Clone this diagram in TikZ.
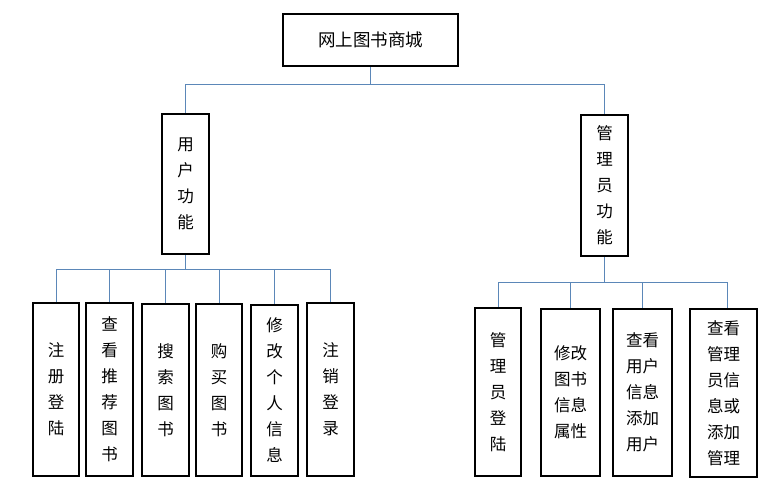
\documentclass[tikz,border=0pt]{standalone}
\usepackage{fontspec}
\newfontfamily\cjk{Noto Sans CJK SC}
\definecolor{linkblue}{HTML}{5B87B8}
\begin{document}
\begin{tikzpicture}[x=1pt,y=-1pt,
  box/.style={draw=black, line width=2.2pt, inner sep=0pt, align=center,
    font=\cjk\fontsize{16.5}{26}\selectfont},
  link/.style={draw=linkblue, line width=0.9pt}]
\useasboundingbox[fill=white] (0,0) rectangle (783,493);
% root
\node[box, minimum width=175pt, minimum height=52pt, font=\cjk\fontsize{17.5}{26}\selectfont] (root) at (370.5,40) {网上图书商城};
% level 1
\node[box, minimum width=47pt, minimum height=140pt] (user) at (185.5,184) {用\\户\\功\\能};
\node[box, minimum width=47pt, minimum height=141pt] (admin) at (604.5,185.5) {管\\理\\员\\功\\能};
% user children
\node[box, minimum width=46pt, minimum height=173pt] (u1) at (56,389.5) {注\\册\\登\\陆};
\node[box, minimum width=47pt, minimum height=173pt] (u2) at (109.5,389.5) {查\\看\\推\\荐\\图\\书};
\node[box, minimum width=47pt, minimum height=172pt] (u3) at (165.5,390) {搜\\索\\图\\书};
\node[box, minimum width=46pt, minimum height=172pt] (u4) at (219,390) {购\\买\\图\\书};
\node[box, minimum width=47pt, minimum height=171pt] (u5) at (274.5,390.5) {修\\改\\个\\人\\信\\息};
\node[box, minimum width=47pt, minimum height=173pt] (u6) at (330.5,389.5) {注\\销\\登\\录};
% admin children
\node[box, minimum width=46pt, minimum height=168pt] (a1) at (498,392) {管\\理\\员\\登\\陆};
\node[box, minimum width=59pt, minimum height=167pt] (a2) at (570.5,392.5) {修改\\图书\\信息\\属性};
\node[box, minimum width=59pt, minimum height=167pt] (a3) at (642.5,392.5) {查看\\用户\\信息\\添加\\用户};
\node[box, minimum width=67pt, minimum height=168pt] (a4) at (723.5,393) {查看\\管理\\员信\\息或\\添加\\管理};
% bus levels
\coordinate (j0) at (0,84);
\coordinate (j1) at (0,269);
\coordinate (j2) at (0,282);
% root to level 1
\draw[link] (root.south) -- (root.south |- j0);
\draw[link] (user.north) -- (user.north |- j0) -- (admin.north |- j0) -- (admin.north);
% user to children
\draw[link] (user.south) -- (user.south |- j1);
\draw[link] (u1.north) -- (u1.north |- j1) -- (u6.north |- j1) -- (u6.north);
\foreach \n in {u2,u3,u4,u5} \draw[link] (\n.north) -- (\n.north |- j1);
% admin to children
\draw[link] (admin.south) -- (admin.south |- j2);
\draw[link] (a1.north) -- (a1.north |- j2) -- ([xshift=3.5pt]a4.north |- j2) -- ([xshift=3.5pt]a4.north);
\foreach \n in {a2,a3} \draw[link] (\n.north) -- (\n.north |- j2);
\end{tikzpicture}
\end{document}
